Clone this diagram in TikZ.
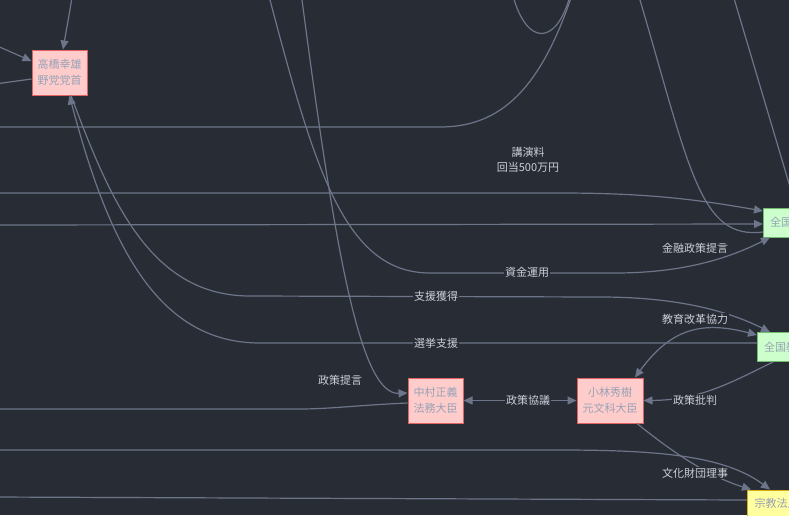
\documentclass[tikz,border=0pt]{standalone}
\usepackage{fontspec}
\setmainfont{Noto Sans CJK JP}
\usetikzlibrary{arrows.meta}
\definecolor{bgc}{RGB}{40,44,52}
\definecolor{edgec}{RGB}{108,117,137}
\definecolor{lblc}{RGB}{204,208,216}
\definecolor{ntext}{RGB}{152,162,182}
\definecolor{pinkf}{RGB}{255,204,204}
\definecolor{pinkd}{RGB}{226,98,98}
\definecolor{greenf}{RGB}{204,255,204}
\definecolor{greend}{RGB}{110,190,110}
\definecolor{yelf}{RGB}{255,255,160}
\definecolor{yeld}{RGB}{212,176,20}
\begin{document}
\begin{tikzpicture}[x=1pt,y=-1pt,
  font=\fontsize{11}{16}\selectfont,
  box/.style={draw, line width=1pt, text=ntext, align=center, inner sep=0pt},
  pinkbox/.style={box, fill=pinkf, draw=pinkd, minimum height=45pt},
  greenbox/.style={box, fill=greenf, draw=greend, minimum height=29pt, anchor=west, inner xsep=6.5pt},
  yelbox/.style={box, fill=yelf, draw=yeld, minimum height=27pt, anchor=west, inner xsep=7pt},
  conn/.style={draw=edgec, line width=1.2pt},
  arr/.style={conn, -{Triangle[length=9pt,width=8pt]}},
  dbl/.style={conn, {Triangle[length=9pt,width=8pt]}-{Triangle[length=9pt,width=8pt]}},
  lab/.style={fill=bgc, text=lblc, inner sep=1pt, align=center, font=\fontsize{11}{15}\selectfont}
]
\useasboundingbox (0,0) rectangle (789,515);
\clip (0,0) rectangle (789,515);
\fill[bgc] (0,0) rectangle (789,515);

% nodes
\node[pinkbox, minimum width=55pt] (takahashi) at (59.5,72.5) {高橋幸雄\\野党党首};
\node[pinkbox, minimum width=55pt] (nakamura) at (435.5,400.5) {中村正義\\法務大臣};
\node[pinkbox, minimum width=66pt] (kobayashi) at (610,400.5) {小林秀樹\\元文科大臣};
\node[greenbox] (z1) at (763,222.5) {全国};
\node[greenbox] (z2) at (757,347) {全国教};
\node[yelbox] (shukyo) at (747,503.5) {宗教法人};

% free ends
\coordinate (t1) at (72.5,-5);
\coordinate (l1) at (-5,45);
\coordinate (l2) at (-5,84);
\coordinate (c1) at (572,-5);
\coordinate (c1e) at (-5,127);
\coordinate (u1) at (513,-4);
\coordinate (u2) at (570,-4);
\coordinate (h193) at (-5,193);
\coordinate (h225) at (-5,225);
\coordinate (v640) at (640,0);
\coordinate (v733a) at (733,-5);
\coordinate (v733b) at (796,207);
\coordinate (vA) at (270,0);
\coordinate (vB) at (302,0);
\coordinate (h409) at (-5,409);
\coordinate (h450) at (-5,450);
\coordinate (h497) at (-5,497);

% edges
\draw[arr] (t1) -- ([xshift=3.5pt]takahashi.north);
\draw[arr] (l1) -- ([yshift=11.5pt]takahashi.west);
\draw[conn] ([yshift=-6.5pt]takahashi.west) -- (l2);
\draw[conn] (c1) .. controls (540,90) and (500,127) .. (440,127) -- (c1e);
\draw[conn] (u1) .. controls (527,46) and (556,46) .. (u2);
\draw[arr] (h193) -- (560,193) .. controls (650,193) and (700,200) .. ([yshift=11.5pt]z1.west);
\draw[arr] (h225) -- ([yshift=-1.5pt]z1.west);
\draw[conn] (v640) .. controls (690,170) and (700,240) .. ([yshift=-9.5pt]z1.west);
\draw[conn] (v733a) -- (v733b);
\draw[arr] (vA) .. controls (315,170) and (345,273) .. (430,273) -- (615,273) .. controls (690,273) and (735,255) .. ([xshift=7pt]z1.south west);
\draw[arr] (vB) .. controls (335,250) and (360,395) .. ([yshift=7.5pt]nakamura.west);
\draw[conn] ([yshift=-2.5pt]nakamura.west) .. controls (360,405) and (330,409) .. (300,409) -- (h409);
\draw[dbl] (nakamura.east) -- (kobayashi.west);
\draw[arr] ([xshift=11.5pt]takahashi.south) .. controls (110,200) and (150,296) .. (250,296) -- (600,297) .. controls (680,297) and (730,312) .. ([xshift=13pt]z2.north west);
\draw[arr] ([yshift=4pt]z2.west) -- (260,343) .. controls (160,343) and (110,250) .. ([xshift=10pt]takahashi.south);
\draw[dbl] ([xshift=25pt]kobayashi.north) .. controls (670,330) and (700,320) .. ([yshift=12pt]z2.west);
\draw[arr] ([xshift=16pt]z2.south west) .. controls (730,383) and (700,400) .. (kobayashi.east);
\draw[arr] (h450) -- (560,450) .. controls (660,450) and (725,456) .. ([xshift=23pt]shukyo.north west);
\draw[arr] ([xshift=27pt]kobayashi.south) .. controls (670,450) and (705,475) .. ([xshift=4pt]shukyo.north west);
\draw[conn] ([yshift=3.5pt]shukyo.west) -- (h497);

% labels
\node[lab] (lk) at (528,159.5) {講演料\\回当500万円};
\node[lab] (lsk) at (527,272) {資金運用};
\node[lab] (lkin) at (695,248) {金融政策提言};
\node[lab] (lsi) at (436,296.5) {支援獲得};
\node[lab] (lkyo) at (695,319) {教育改革協力};
\node[lab] (lsen) at (436,343) {選挙支援};
\node[lab] (lsei) at (340,380) {政策提言};
\node[lab] (lkyg) at (528,400) {政策協議};
\node[lab] (lhi) at (695,400) {政策批判};
\node[lab] (lbun) at (695,473) {文化財団理事};
\end{tikzpicture}
\end{document}
